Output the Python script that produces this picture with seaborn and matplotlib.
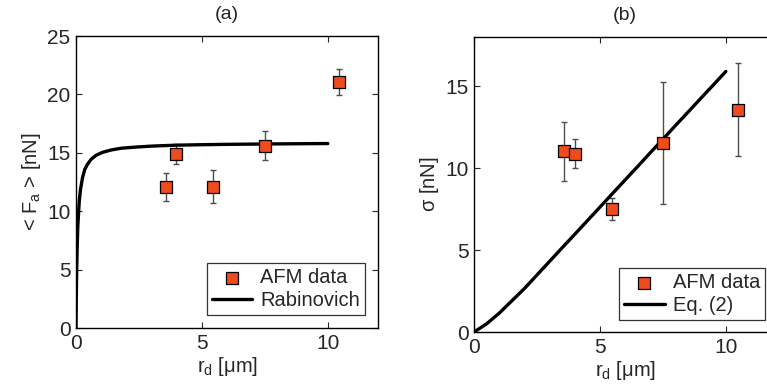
import numpy as np
import pandas as pd
import matplotlib
matplotlib.use('Agg')
import matplotlib.pyplot as plt
import seaborn as sns

# AFM data
r_d = [3.57, 3.99, 5.44, 7.49, 10.44]
fa_mean = [12.06, 14.88, 12.12, 15.62, 21.09]
fa_err = [1.22, 0.85, 1.45, 1.22, 1.12]

r_d_b = [3.56, 4.0, 5.46, 7.52, 10.49]
sigma = [11.04, 10.89, 7.48, 11.54, 13.56]
sigma_err = [1.8, 0.88, 0.67, 3.73, 2.83]

# Rabinovich curve, sampled off the plot
rab_x = [0, 0.01, 0.02, 0.03, 0.05, 0.07, 0.1, 0.13, 0.18, 0.26, 0.35, 0.45, 0.6,
         0.8, 1.06, 1.4, 1.8, 2.4, 3.0, 4.0, 5.0, 6.0, 8.0, 10.0]
rab_y = [0, 2.3, 4.0, 5.3, 7.2, 8.6, 9.8, 10.9, 11.9, 12.9, 13.6, 14.0, 14.45,
         14.8, 15.05, 15.25, 15.4, 15.5, 15.58, 15.66, 15.7, 15.73, 15.77, 15.8]

# Eq. (2) curve, sampled off the plot
eq2_x = [0, 0.5, 1, 1.5, 2, 2.5, 3, 3.5, 4, 4.5, 5, 5.5, 6, 6.5, 7, 7.5, 8,
         8.5, 9, 9.5, 10]
eq2_y = [0, 0.5, 1.15, 1.9, 2.65, 3.48, 4.31, 5.14, 5.96, 6.79, 7.62, 8.45,
         9.28, 10.1, 10.94, 11.76, 12.6, 13.42, 14.25, 15.07, 15.9]

sns.set_style('ticks')
plt.rcParams['font.family'] = ['Liberation Sans', 'DejaVu Sans']
plt.rcParams['mathtext.default'] = 'regular'
plt.rcParams['xtick.direction'] = 'in'
plt.rcParams['ytick.direction'] = 'in'

orange = '#EE4B1E'

fig = plt.figure(figsize=(7.67, 3.92), dpi=100)
ax1 = fig.add_axes([0.0991, 0.163, 0.394, 0.745])
ax2 = fig.add_axes([0.618, 0.153, 0.394, 0.7526])


def panel(ax, x, y, err, cx, cy, line_label, title, ylabel, ylim, yticks, legend_anchor):
    ax.errorbar(x, y, yerr=err, fmt='none', ecolor='0.3', elinewidth=1,
                capsize=2, capthick=1, zorder=2)
    sns.lineplot(x=cx, y=cy, ax=ax, color='black', lw=2.4, sort=False,
                 label=line_label, zorder=3, legend=False)
    sns.scatterplot(x=x, y=y, ax=ax, marker='s', s=85, color=orange,
                    edgecolor='black', linewidth=0.9, label='AFM data', zorder=4,
                    legend=False)
    ax.set_xlim(0, 12)
    ax.set_ylim(*ylim)
    ax.set_xticks([0, 5, 10])
    ax.set_yticks(yticks)
    ax.tick_params(top=True, right=True, length=4, width=0.8, labelsize=15, pad=4)
    for s in ax.spines.values():
        s.set_visible(True)
        s.set_linewidth(1.0)
        s.set_color('black')
    ax.set_title(title, fontsize=14, pad=12)
    ax.set_xlabel(r'r$_d$ [$\mu$m]', fontsize=14.5, labelpad=2)
    ax.set_ylabel(ylabel, fontsize=14.5, labelpad=3)
    handles, labels = ax.get_legend_handles_labels()
    order = [labels.index('AFM data'), labels.index(line_label)]
    leg = ax.legend([handles[i] for i in order], [labels[i] for i in order],
                    loc='lower right', bbox_to_anchor=legend_anchor,
                    fontsize=14.5, frameon=True, fancybox=False,
                    handlelength=2.0, handletextpad=0.4, borderpad=0.25,
                    labelspacing=0.2, borderaxespad=0.0)
    leg.get_frame().set_edgecolor('black')
    leg.get_frame().set_linewidth(0.9)


panel(ax1, r_d, fa_mean, fa_err, rab_x, rab_y, 'Rabinovich', '(a)',
      '< F$_a$ > [nN]', (0, 25), [0, 5, 10, 15, 20, 25], (0.957, 0.045))
panel(ax2, r_d_b, sigma, sigma_err, eq2_x, eq2_y, 'Eq. (2)', '(b)',
      r'$\sigma$ [nN]', (0, 18), [0, 5, 10, 15], (0.963, 0.04))

fig.savefig('out.png', dpi=100)
